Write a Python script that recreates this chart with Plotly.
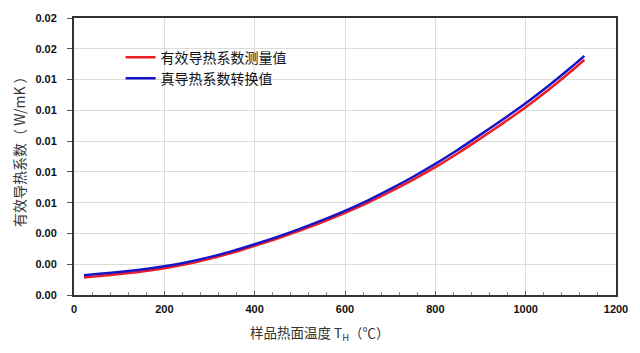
import plotly.graph_objects as go

temps = [22, 50, 100, 150, 200, 250, 300, 350, 400, 450, 500, 550, 600, 650,
         700, 750, 800, 850, 900, 950, 1000, 1050, 1100, 1130]
measured = [0.00114, 0.00121, 0.00136, 0.001525, 0.00174, 0.00201, 0.00235, 0.002745,
            0.00320, 0.003675, 0.00419, 0.00474, 0.00534, 0.00599, 0.00671, 0.00748,
            0.00831, 0.009215, 0.01018, 0.01117, 0.01220, 0.01332, 0.01452, 0.01529]
true_k = [0.00129, 0.00136, 0.00150, 0.00166, 0.00187, 0.00213, 0.00246, 0.00285,
          0.00330, 0.00378, 0.00430, 0.00486, 0.00547, 0.00614, 0.00688, 0.00767,
          0.00852, 0.00944, 0.01042, 0.01142, 0.01246, 0.01358, 0.01478, 0.01554]
series_names = ["有效导热系数测量值", "真导热系数转换值"]

cjk = "Noto Sans CJK SC"
num = "Liberation Sans, Arial"

fig = go.Figure()
fig.add_trace(go.Scatter(x=temps, y=measured, mode="lines", name=series_names[0],
                         line=dict(color="#ee1c25", width=2.5, shape="spline", smoothing=0.8)))
fig.add_trace(go.Scatter(x=temps, y=true_k, mode="lines", name=series_names[1],
                         line=dict(color="#1515c8", width=2.5, shape="spline", smoothing=0.8)))

fig.update_layout(
    width=640, height=353,
    margin=dict(l=74, r=20, t=15, b=58),
    paper_bgcolor="white", plot_bgcolor="white",
    showlegend=True,
    legend=dict(x=0.086, y=0.915, xanchor="left", yanchor="top",
                bgcolor="rgba(0,0,0,0)", font=dict(family=cjk, size=14, color="#111"),
                itemwidth=30, tracegroupgap=0),
    xaxis=dict(range=[0, 1200], dtick=200,
               tickfont=dict(family=num, size=11, color="#111", weight="bold"),
               ticklabelstandoff=3,
               showgrid=True, gridcolor="#dcdcdc", gridwidth=1,
               showline=True, linecolor="#333", linewidth=2, mirror=True,
               ticks="inside", ticklen=4, tickcolor="#555",
               minor=dict(dtick=40, ticks="inside", ticklen=3, tickcolor="#888", showgrid=False),
               zeroline=False),
    yaxis=dict(range=[0, 0.018], dtick=0.002, tickformat=".2f",
               tickfont=dict(family=num, size=11, color="#111", weight="bold"),
               ticklabelstandoff=8,
               showgrid=True, gridcolor="#dcdcdc", gridwidth=1,
               showline=True, linecolor="#333", linewidth=2, mirror=True,
               ticks="outside", ticklen=5, tickcolor="#555",
               zeroline=False),
    annotations=[
        dict(text="样品热面温度 T<sub>H</sub>（℃）", xref="paper", yref="paper",
             x=(322 - 74) / 546, y=-(333 - 295) / 280, xanchor="center", yanchor="middle",
             showarrow=False, font=dict(family=cjk, size=13.5, color="#333")),
        dict(text="有效导热系数（ W/mK ）", xref="paper", yref="paper",
             x=-(74 - 18) / 546, y=(295 - 146) / 280, xanchor="center", yanchor="middle",
             textangle=-90, showarrow=False, font=dict(family=cjk, size=14, color="#333")),
    ],
)

fig.write_html("out.html")
